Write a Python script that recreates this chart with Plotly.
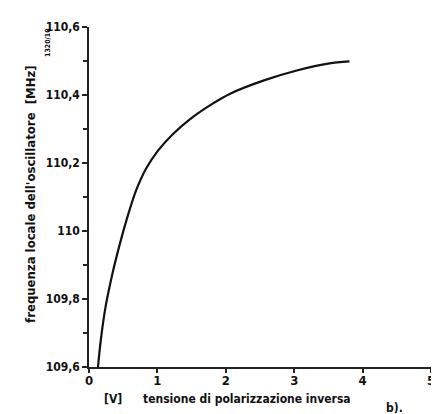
import plotly.graph_objects as go

# Data
tensione = [0.131, 0.170, 0.237, 0.334, 0.455, 0.560, 0.690, 0.833, 1.003, 1.221, 1.483,
            1.802, 2.064, 2.558, 3.038, 3.517, 3.808]
frequenza = [109.600, 109.675, 109.771, 109.867, 109.965, 110.040, 110.120, 110.183, 110.235,
             110.284, 110.330, 110.374, 110.404, 110.443, 110.472, 110.493, 110.499]

y_tickvals = [109.6, 109.8, 110.0, 110.2, 110.4, 110.6]
y_ticktext = ["109,6", "109,8", "110", "110,2", "110,4", "110,6"]
x_tickvals = [0, 1, 2, 3, 4, 5]

FONT = "DejaVu Sans Condensed, Liberation Sans Narrow, Arial Narrow, sans-serif"

W, H = 439, 414
ML, MR, MT, MB = 81, 14, 14, 55
pw, ph = W - ML - MR, H - MT - MB

def px(xp):
    return (xp - ML) / pw

def py(yp):
    return (H - MB - yp) / ph

fig = go.Figure()
fig.add_trace(go.Scatter(
    x=tensione, y=frequenza, mode="lines",
    line=dict(color="#111111", width=2.2, shape="spline", smoothing=0.7),
    showlegend=False, hoverinfo="skip"))

fig.update_layout(
    width=W, height=H,
    margin=dict(l=ML, r=MR, t=MT, b=MB),
    paper_bgcolor="white", plot_bgcolor="white",
    font=dict(family=FONT, color="#111111", size=12),
    xaxis=dict(range=[0, 5], tickvals=x_tickvals, ticktext=[str(v) for v in x_tickvals],
               showgrid=False, zeroline=False, showline=True, linecolor="#222222", linewidth=1.5,
               ticks="outside", ticklen=4, tickwidth=1.5, tickcolor="#222222",
               ticklabelstandoff=-3,
               tickfont=dict(family=FONT, size=13, weight="bold"), fixedrange=True),
    yaxis=dict(range=[109.6, 110.6], tickvals=y_tickvals, ticktext=y_ticktext,
               showgrid=False, zeroline=False, showline=True, linecolor="#222222", linewidth=1.5,
               ticks="outside", ticklen=5, tickwidth=1.5, tickcolor="#222222",
               minor=dict(dtick=0.1, ticks="outside", ticklen=4, tickwidth=1.5, tickcolor="#222222"),
               tickfont=dict(family=FONT, size=12, weight="bold"), fixedrange=True),
    annotations=[
        dict(text="frequenza locale dell'oscillatore  [MHz]", x=px(22), y=py(183),
             xref="paper", yref="paper", textangle=-90, showarrow=False,
             font=dict(family=FONT, size=13, weight="bold"), xanchor="center", yanchor="middle"),
        dict(text="1320/10", x=px(40), y=py(30), xref="paper", yref="paper", textangle=-90,
             showarrow=False, font=dict(family=FONT, size=7, weight="bold"),
             xanchor="center", yanchor="middle"),
        dict(text="[V]", x=px(105), y=py(391), xref="paper", yref="paper", showarrow=False,
             font=dict(family=FONT, size=12, weight="bold"), xanchor="center", yanchor="middle"),
        dict(text="tensione di polarizzazione inversa", x=px(240), y=py(391),
             xref="paper", yref="paper", showarrow=False,
             font=dict(family=FONT, size=12, weight="bold"), xanchor="center", yanchor="middle"),
        dict(text="b).", x=px(388), y=py(401), xref="paper", yref="paper", showarrow=False,
             font=dict(family=FONT, size=12, weight="bold"), xanchor="center", yanchor="middle"),
    ],
)

fig.write_html("out.html")
